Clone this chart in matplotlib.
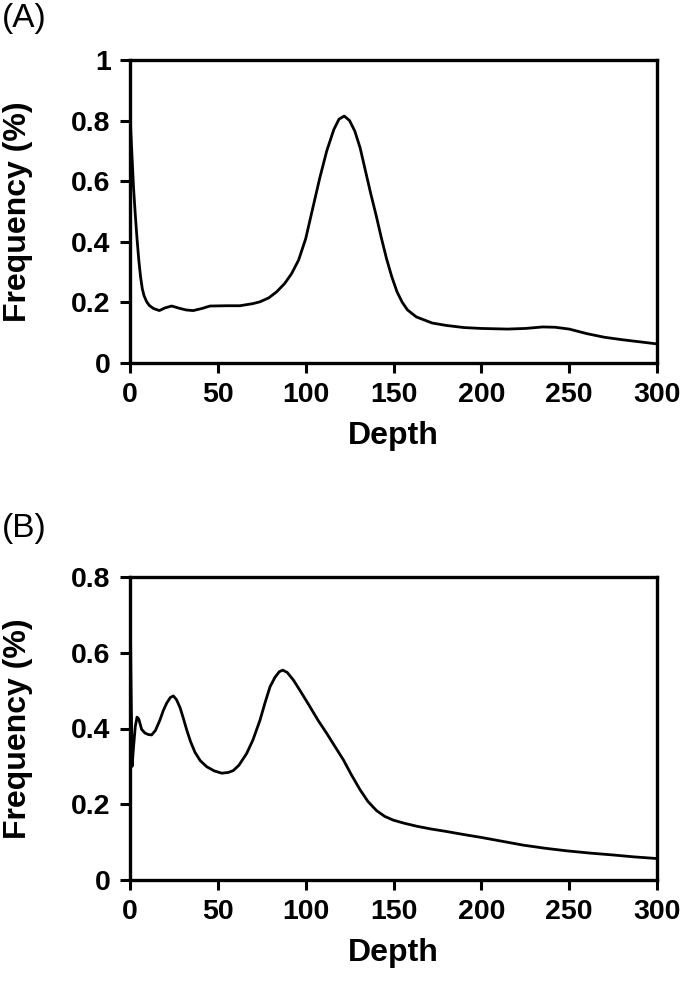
import matplotlib
matplotlib.use("Agg")
import matplotlib.pyplot as plt

plt.rcParams['font.family'] = ['Liberation Sans', 'DejaVu Sans']

# panel A: depth vs frequency (%)
depth_a = [0, 1, 2, 3, 4, 5, 6, 7, 8, 9.5, 11, 13.3, 16.7, 20, 23.7, 28.5, 32, 36,
           41, 45.5, 55, 62.6, 70, 74, 79, 83.5, 88, 92, 96, 100, 104, 108, 112,
           116, 119, 122, 125, 128, 131, 134, 137, 140, 143, 146, 149, 152, 155,
           158, 163, 172, 180, 190, 200, 215, 225, 235, 242, 250, 260, 270, 280,
           290, 300]
freq_a = [0.82, 0.70, 0.58, 0.49, 0.41, 0.34, 0.285, 0.245, 0.222, 0.202, 0.19,
          0.18, 0.173, 0.182, 0.188, 0.18, 0.175, 0.173, 0.18, 0.188, 0.189, 0.189,
          0.196, 0.202, 0.215, 0.235, 0.262, 0.295, 0.34, 0.41, 0.51, 0.61, 0.70,
          0.77, 0.805, 0.815, 0.80, 0.765, 0.71, 0.635, 0.56, 0.49, 0.415, 0.345,
          0.285, 0.235, 0.20, 0.175, 0.152, 0.132, 0.124, 0.117, 0.114, 0.112,
          0.114, 0.119, 0.118, 0.112, 0.097, 0.085, 0.077, 0.070, 0.063]

# panel B
depth_b = [0, 0.5, 1.2, 2, 3, 4, 5, 6.6, 8.5, 10.5, 12.3, 14.5, 17, 19, 21, 23,
           24.7, 26.5, 28.5, 30.5, 32.3, 34.5, 37, 40, 43.7, 48, 52.2, 56, 58.8,
           62, 66.4, 70, 74, 77, 79.7, 82.5, 85, 87, 89.5, 93, 97.5, 102.5, 107,
           112, 117, 121.5, 126, 131, 135.5, 140.4, 145, 149.9, 156, 163.2, 171,
           180.3, 190, 199.2, 211, 223.9, 236, 248.6, 262, 275.2, 287, 299]
freq_b = [0.80, 0.55, 0.30, 0.35, 0.405, 0.43, 0.425, 0.398, 0.388, 0.384, 0.383,
          0.395, 0.422, 0.448, 0.468, 0.482, 0.486, 0.476, 0.455, 0.425, 0.396,
          0.365, 0.337, 0.315, 0.299, 0.288, 0.282, 0.284, 0.289, 0.303, 0.334,
          0.37, 0.422, 0.47, 0.51, 0.535, 0.55, 0.554, 0.548, 0.528, 0.495, 0.457,
          0.422, 0.387, 0.35, 0.317, 0.278, 0.238, 0.207, 0.183, 0.168, 0.158,
          0.15, 0.142, 0.135, 0.128, 0.12, 0.113, 0.103, 0.092, 0.084, 0.077,
          0.071, 0.066, 0.061, 0.057]

x_ticks = [0, 50, 100, 150, 200, 250, 300]
y_ticks_a = [0, 0.2, 0.4, 0.6, 0.8, 1]
y_ticks_b = [0, 0.2, 0.4, 0.6, 0.8]

W, H = 685, 999
fig = plt.figure(figsize=(W / 100, H / 100), dpi=100)


def style(ax, yticks, ymax):
    ax.set_xlim(0, 300)
    ax.set_ylim(0, ymax)
    ax.set_xticks(x_ticks)
    ax.set_yticks(yticks)
    ax.set_xticklabels([str(v) for v in x_ticks])
    ax.set_yticklabels([f"{v:g}" for v in yticks])
    for s in ax.spines.values():
        s.set_linewidth(2.4)
    ax.tick_params(direction='out', length=7, width=2.2, labelsize=20.5)
    ax.tick_params(axis='x', pad=7)
    ax.tick_params(axis='y', pad=7)
    for lab in ax.get_xticklabels() + ax.get_yticklabels():
        lab.set_fontweight('bold')
    ax.set_xlabel("Depth", fontsize=23, fontweight='bold', labelpad=9)


ax_a = fig.add_axes([130 / W, 1 - 363 / H, 527 / W, 303 / H])
ax_a.plot(depth_a, freq_a, color='black', lw=2.0, solid_joinstyle='round')
style(ax_a, y_ticks_a, 1)

ax_b = fig.add_axes([130 / W, 1 - 880 / H, 527 / W, 303 / H])
ax_b.plot(depth_b, freq_b, color='black', lw=2.0, solid_joinstyle='round')
style(ax_b, y_ticks_b, 0.8)

fig.text(18 / W, 1 - 211.5 / H, "Frequency (%)", rotation=90, ha='center', va='center',
         fontsize=23, fontweight='bold')
fig.text(18 / W, 1 - 728.5 / H, "Frequency (%)", rotation=90, ha='center', va='center',
         fontsize=23, fontweight='bold')

fig.text(2 / W, 1 - 18 / H, "(A)", ha='left', va='center', fontsize=24)
fig.text(2 / W, 1 - 529 / H, "(B)", ha='left', va='center', fontsize=24)

fig.savefig("out.png", dpi=100)
